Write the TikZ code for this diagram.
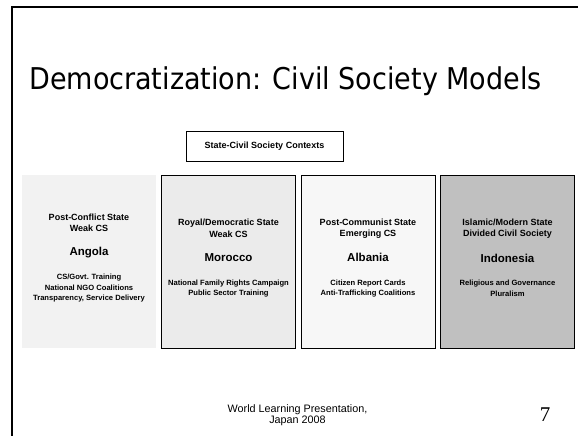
\documentclass[tikz,border=0pt]{standalone}
\usepackage{fontspec}
\setmainfont{Liberation Sans}
\newfontfamily\titlefont{DejaVu Sans Condensed}
\newfontfamily\numfont{Liberation Serif}

\tikzset{
	modelbox/.style={rectangle, minimum width=134pt, minimum height=173pt, inner sep=0pt},
	hdr/.style={font=\fontsize{9}{11.5}\selectfont\bfseries, align=center},
	country/.style={font=\fontsize{11.5}{13}\selectfont\bfseries},
	detail/.style={font=\fontsize{7.6}{10.5}\selectfont\bfseries, align=center},
}

\begin{document}
\begin{tikzpicture}[x=1pt,y=-1pt]
		\useasboundingbox (0,0) rectangle (578,436);
		\fill[white] (0,0) rectangle (578,436);
		
		% slide frame
		\draw[line width=2pt] (12,436) -- (12,7) -- (578,7);
		
		\node[anchor=base, font=\titlefont\fontsize{30}{34}\selectfont] (title) at (285.5,89) {Democratization: Civil Society Models};
		
		\node[draw, minimum width=157pt, minimum height=30pt, font=\fontsize{9}{11}\selectfont\bfseries] (ctx) at (264.5,146) {State-Civil Society Contexts};
		
		% the four models
		\node[modelbox, fill={rgb,255:red,242;green,242;blue,242}] (angola) at (89,261.5) {};
		\node[modelbox, draw, fill={rgb,255:red,235;green,235;blue,235}] (morocco) at (228.5,261.5) {};
		\node[modelbox, draw, fill={rgb,255:red,247;green,247;blue,247}] (albania) at (368,261.5) {};
		\node[modelbox, draw, fill={rgb,255:red,192;green,192;blue,192}] (indonesia) at (507.5,261.5) {};
		
		\node[hdr] (angolahdr) at (89,223) {Post-Conflict State\\Weak CS};
		\node[country] (angolaname) at (89,253) {Angola};
		\node[detail] (angolatxt) at (89,288.5) {CS/Govt. Training\\National NGO Coalitions\\Transparency, Service Delivery};
		
		\node[hdr] (moroccohdr) at (228.5,228.5) {Royal/Democratic State\\Weak CS};
		\node[country] (morocconame) at (228.5,258) {Morocco};
		\node[detail] (moroccotxt) at (228.5,288.5) {National Family Rights Campaign\\Public Sector Training};
		
		\node[hdr] (albaniahdr) at (368,228.5) {Post-Communist State\\Emerging CS};
		\node[country] (albanianame) at (368,257) {Albania};
		\node[detail] (albaniatxt) at (368,288.5) {Citizen Report Cards\\Anti-Trafficking Coalitions};
		
		\node[hdr] (indonesiahdr) at (507.5,228.5) {Islamic/Modern State\\Divided Civil Society};
		\node[country] (indonesianame) at (507.5,258) {Indonesia};
		\node[detail] (indonesiatxt) at (507.5,288.5) {Religious and Governance\\Pluralism};
		
		% footer
		\node[font=\fontsize{10.8}{11.5}\selectfont, align=center] (footer) at (297.5,415) {World Learning Presentation,\\Japan 2008};
		\node[font=\numfont\fontsize{21}{24}\selectfont] (pagenum) at (545,415) {7};
		
	\end{tikzpicture}
\end{document}
